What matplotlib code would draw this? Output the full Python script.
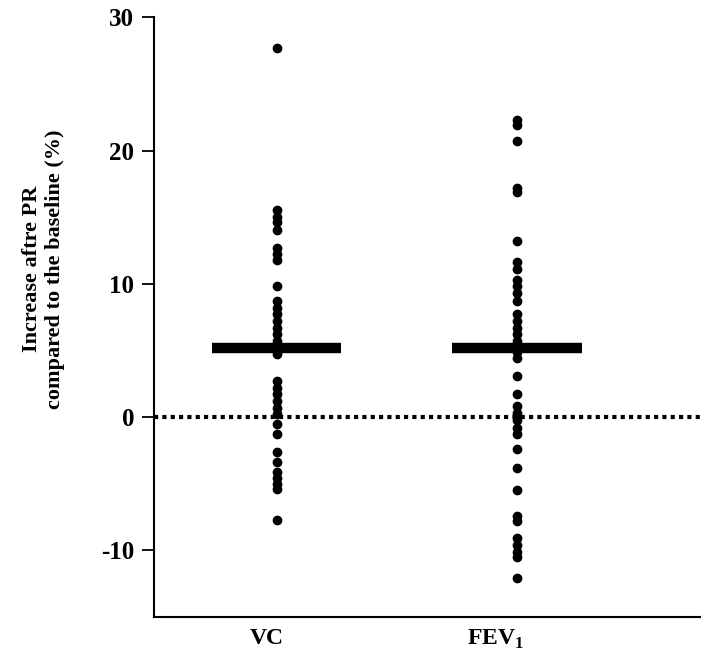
import matplotlib
matplotlib.use("Agg")
import matplotlib.pyplot as plt

# values (percent change vs baseline)
groups = ['VC', r'FEV$_\mathbf{1}$']
vc = [27.7, 15.5, 15.0, 14.6, 14.0, 12.7, 12.2, 11.8, 9.8, 8.7, 8.2, 7.7,
      7.2, 6.7, 6.2, 5.7, 5.2, 4.7, 2.7, 2.2, 1.7, 1.2, 0.7, 0.2, -0.5,
      -1.3, -2.6, -3.4, -4.1, -4.6, -5.0, -5.4, -7.7]
fev1 = [22.3, 21.9, 20.7, 17.2, 16.9, 13.2, 11.6, 11.1, 10.3, 9.8, 9.3,
        8.7, 7.7, 7.2, 6.7, 6.2, 5.7, 5.2, 4.9, 4.4, 3.1, 1.7, 0.8, 0.3,
        -0.2, -0.8, -1.3, -2.4, -3.8, -5.5, -7.4, -7.8, -9.1, -9.6, -10.1,
        -10.5, -12.1]
means = [5.2, 5.2]
yticks = [-10, 0, 10, 20, 30]


def main():
    plt.rcParams['font.family'] = ['Liberation Serif', 'DejaVu Serif']
    plt.rcParams['mathtext.fontset'] = 'custom'
    plt.rcParams['mathtext.rm'] = 'Liberation Serif'
    plt.rcParams['mathtext.bf'] = 'Liberation Serif:bold'

    fig = plt.figure(figsize=(7.09, 6.64), dpi=100)
    ax = fig.add_axes([0.217, 0.071, 0.770, 0.903])

    ax.axhline(0, color='black', linestyle=(0, (1, 1)), linewidth=3, zorder=1)

    for i, vals in enumerate([vc, fev1]):
        x = i + 1
        ax.plot([x] * len(vals), vals, 'o', color='black', markersize=6,
                zorder=3)
        ax.plot([x - 0.27, x + 0.27], [means[i], means[i]], color='black',
                linewidth=7.5, solid_capstyle='butt', zorder=2)

    ax.set_xlim(0.49, 2.76)
    ax.set_ylim(-15, 30)
    ax.set_yticks(yticks)
    ax.set_yticklabels([str(t) for t in yticks], fontsize=18,
                       fontweight='bold')
    ax.set_xticks([0.96, 1.91])
    ax.set_xticklabels(groups, fontsize=17, fontweight='bold')
    ax.tick_params(axis='x', length=0, pad=8)
    ax.tick_params(axis='y', length=9, width=1.3, direction='out', pad=5)

    for side in ['top', 'right']:
        ax.spines[side].set_visible(False)
    for side in ['left', 'bottom']:
        ax.spines[side].set_linewidth(1.5)

    ax.set_ylabel('Increase aftre PR\ncompared to the baseline (%)',
                  fontsize=16, fontweight='bold')
    ax.yaxis.set_label_coords(-0.163, 0.58)

    fig.savefig('out.png', dpi=100)


if __name__ == '__main__':
    main()
